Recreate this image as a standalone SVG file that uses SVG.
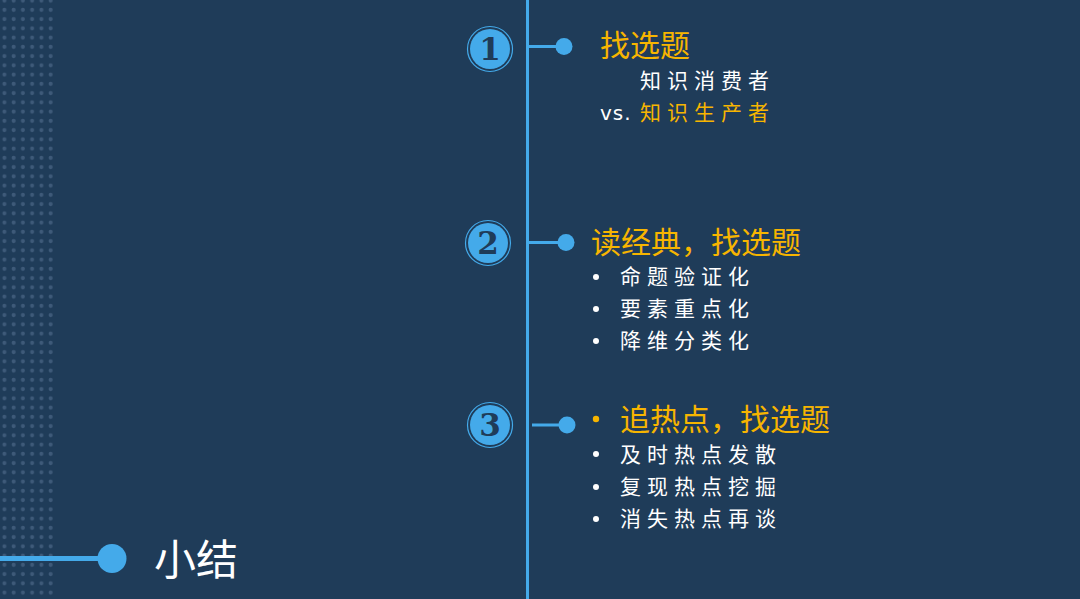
<svg xmlns="http://www.w3.org/2000/svg" width="1080" height="599" viewBox="0 0 1080 599">
<defs>
<pattern id="dots" x="0" y="-4" width="9.25" height="9.25" patternUnits="userSpaceOnUse">
<circle cx="4.4" cy="4.6" r="2" fill="#3e5a79"/>
</pattern>
<style>
.cjk{font-family:"Noto Sans CJK SC","Noto Sans",sans-serif}
.title{font-size:30px;fill:#f7b500}
.sub{font-size:21px;fill:#ffffff;letter-spacing:6px}
.bul{fill:#ffffff}
.conn{stroke:#44aaea;stroke-width:3;fill:none}
.dot{fill:#44aaea}
.num{fill:#44aaea}
.ring{fill:none;stroke:#44aaea;stroke-width:1.2}
.digit{font-family:"DejaVu Serif","Liberation Serif",serif;font-weight:bold;font-size:31px;fill:#1f3c59;text-anchor:middle}
</style>
</defs>
<rect width="1080" height="599" fill="#1f3c59"/>
<rect x="0" y="0" width="56" height="599" fill="url(#dots)"/>

<g id="connectors">
<line class="conn" x1="527.5" y1="0" x2="527.5" y2="599"/>
<line class="conn" x1="529" y1="46.5" x2="562" y2="46.5"/>
<circle class="dot" cx="564" cy="46.5" r="8.5"/>
<line class="conn" x1="529" y1="242.5" x2="564" y2="242.5"/>
<circle class="dot" cx="566" cy="242.5" r="8.5"/>
<line class="conn" x1="532" y1="425" x2="565" y2="425"/>
<circle class="dot" cx="567" cy="425" r="8.5"/>
<line x1="0" y1="558.5" x2="105" y2="558.5" stroke="#44aaea" stroke-width="5"/>
<circle class="dot" cx="112" cy="558.5" r="14.5"/>
</g>

<g id="node1">
<circle class="ring" cx="490" cy="49" r="22.5"/>
<circle class="num" cx="490" cy="49" r="20"/>
<text class="digit" x="490" y="60">1</text>
<text class="cjk title" x="600" y="56">找选题</text>
<text class="cjk sub" x="640" y="88">知识消费者</text>
<text x="600" y="120" font-family="DejaVu Sans, sans-serif" font-size="20" fill="#ffffff" letter-spacing="1">vs.</text>
<text class="cjk sub" x="640" y="120" style="fill:#f7b500">知识生产者</text>
</g>

<g id="node2">
<circle class="ring" cx="488" cy="243" r="22.5"/>
<circle class="num" cx="488" cy="243" r="20"/>
<text class="digit" x="488" y="254">2</text>
<text class="cjk title" x="591" y="253">读经典，找选题</text>
<circle class="bul" cx="596" cy="277" r="3"/>
<text class="cjk sub" x="620" y="284">命题验证化</text>
<circle class="bul" cx="596" cy="309" r="3"/>
<text class="cjk sub" x="620" y="316">要素重点化</text>
<circle class="bul" cx="596" cy="341" r="3"/>
<text class="cjk sub" x="620" y="348">降维分类化</text>
</g>

<g id="node3">
<circle class="ring" cx="490" cy="425" r="22.5"/>
<circle class="num" cx="490" cy="425" r="20"/>
<text class="digit" x="490" y="436">3</text>
<circle cx="596" cy="419" r="3.2" fill="#f7b500"/>
<text class="cjk title" x="620" y="430">追热点，找选题</text>
<circle class="bul" cx="596" cy="454" r="3"/>
<text class="cjk sub" x="620" y="462">及时热点发散</text>
<circle class="bul" cx="596" cy="487" r="3"/>
<text class="cjk sub" x="620" y="494">复现热点挖掘</text>
<circle class="bul" cx="596" cy="519" r="3"/>
<text class="cjk sub" x="620" y="526">消失热点再谈</text>
</g>

<g id="summary">
<text class="cjk" x="154" y="575" font-size="42" fill="#ffffff">小结</text>
</g>
</svg>
